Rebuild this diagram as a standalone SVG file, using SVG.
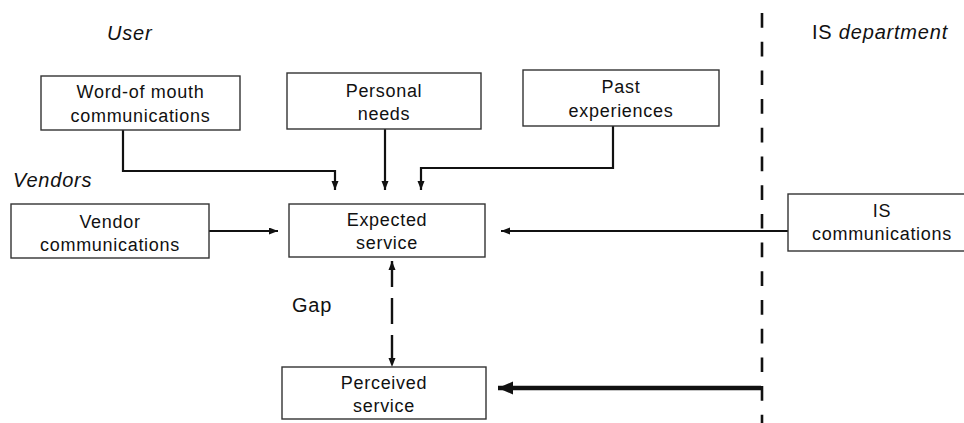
<svg xmlns="http://www.w3.org/2000/svg" width="964" height="423" viewBox="0 0 964 423">
  <style>
    .box { fill: #ffffff; stroke: #333333; stroke-width: 1.4; }
    .txt { font-family: "Liberation Sans", Arial, sans-serif; font-size: 18px; letter-spacing: 0.7px; fill: #111111; text-anchor: middle; }
    .lbl { font-family: "Liberation Sans", Arial, sans-serif; font-size: 20px; letter-spacing: 0.8px; fill: #111111; }
    .it { font-style: italic; }
    .wire { fill: none; stroke: #111111; stroke-width: 2.2; }
    .thick { fill: none; stroke: #111111; stroke-width: 4.5; }
    .gap { fill: none; stroke: #111111; stroke-width: 2.4; stroke-dasharray: 26 11; }
    .split { fill: none; stroke: #111111; stroke-width: 2.6; stroke-dasharray: 14.7 14; }
  </style>
  <defs>
    <marker id="head" markerUnits="userSpaceOnUse" markerWidth="10" markerHeight="8" refX="9" refY="3.5" orient="auto">
      <path d="M0,0 L9,3.5 L0,7 z" fill="#111111"/>
    </marker>
    <marker id="headStart" markerUnits="userSpaceOnUse" markerWidth="10" markerHeight="8" refX="0" refY="3.5" orient="auto">
      <path d="M9,0 L0,3.5 L9,7 z" fill="#111111"/>
    </marker>
    <marker id="headBig" markerUnits="userSpaceOnUse" markerWidth="16" markerHeight="14" refX="15" refY="6.5" orient="auto">
      <path d="M0,0 L15,6.5 L0,13 z" fill="#111111"/>
    </marker>
  </defs>

  <!-- region labels -->
  <g id="labels">
    <text class="lbl it" x="107" y="40">User</text>
    <text class="lbl it" x="13" y="187">Vendors</text>
    <text class="lbl" x="812" y="39">IS <tspan class="it">department</tspan></text>
    <text class="lbl" x="292" y="312">Gap</text>
  </g>

  <!-- boundary between user side and IS department -->
  <line class="split" x1="762" y1="13" x2="762" y2="423"/>

  <!-- connectors -->
  <g id="connectors">
    <path class="wire" d="M123,130 V171 H335 V190" marker-end="url(#head)"/>
    <path class="wire" d="M385,129 V190" marker-end="url(#head)"/>
    <path class="wire" d="M613,126 V168 H421 V190" marker-end="url(#head)"/>
    <path class="wire" d="M209,231 H278" marker-end="url(#head)"/>
    <path class="wire" d="M788,231 H501" marker-end="url(#head)"/>
    <path class="gap" d="M392,261 V367" marker-start="url(#headStart)" marker-end="url(#head)"/>
    <path class="thick" d="M761,388 H498" marker-end="url(#headBig)"/>
  </g>

  <!-- nodes -->
  <g id="word-of-mouth">
    <rect class="box" x="41" y="76" width="199" height="54"/>
    <text class="txt" x="140.5" y="98">Word-of mouth</text>
    <text class="txt" x="140.5" y="122">communications</text>
  </g>
  <g id="personal-needs">
    <rect class="box" x="287" y="73" width="194" height="56"/>
    <text class="txt" x="384" y="97">Personal</text>
    <text class="txt" x="384" y="120">needs</text>
  </g>
  <g id="past-experiences">
    <rect class="box" x="523" y="70" width="196" height="56"/>
    <text class="txt" x="621" y="93">Past</text>
    <text class="txt" x="621" y="117">experiences</text>
  </g>
  <g id="vendor-communications">
    <rect class="box" x="11" y="204" width="198" height="54"/>
    <text class="txt" x="110" y="228">Vendor</text>
    <text class="txt" x="110" y="251">communications</text>
  </g>
  <g id="expected-service">
    <rect class="box" x="289" y="204" width="196" height="53"/>
    <text class="txt" x="387" y="226">Expected</text>
    <text class="txt" x="387" y="249">service</text>
  </g>
  <g id="is-communications">
    <rect class="box" x="788" y="194" width="180" height="57"/>
    <text class="txt" x="882" y="217">IS</text>
    <text class="txt" x="882" y="240">communications</text>
  </g>
  <g id="perceived-service">
    <rect class="box" x="282" y="367" width="204" height="52"/>
    <text class="txt" x="384" y="389">Perceived</text>
    <text class="txt" x="384" y="412">service</text>
  </g>
</svg>
